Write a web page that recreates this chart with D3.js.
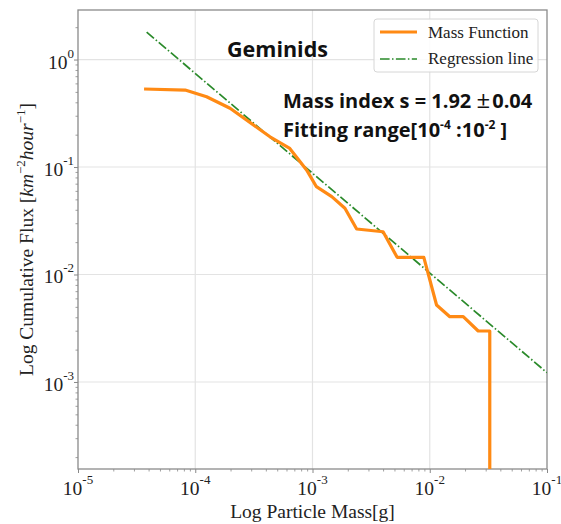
<!DOCTYPE html>
<html>
<head>
<meta charset="utf-8">
<script src="https://cdn.jsdelivr.net/npm/d3@7"></script>
<style>
  body { margin: 0; background: #fff; }
  svg text { font-family: "Liberation Serif", "Times New Roman", serif; }
</style>
</head>
<body>
<svg id="chart" width="561" height="524"></svg>
<script>
// Cumulative flux of the Geminids versus particle mass (log-log)
const massG   = [3.66e-5, 8.2e-5, 1.25e-4, 1.98e-4, 4.34e-4, 6.4e-4, 8.9e-4, 1.08e-3, 1.46e-3, 1.89e-3, 2.38e-3, 4.0e-3, 5.27e-3, 8.9e-3, 1.143e-2, 1.483e-2, 1.93e-2, 2.59e-2, 3.25e-2, 3.25e-2];
const cumFlux = [0.532,   0.52,   0.451,   0.352,   0.191,   0.149,  0.094,  0.0656,  0.053,   0.0413,  0.0265,  0.025,  0.01445, 0.01445, 0.0052,   0.00405,  0.00405, 0.00298, 0.00298, 1e-4];

// Power-law fit, drawn between its two end points
const regMass = [3.85e-5, 0.1];
const regFlux = [1.80, 1.22e-3];

// Decade ticks and their exponents
const xTickVals = [1e-5, 1e-4, 1e-3, 1e-2, 1e-1];
const xTickExp  = ["-5", "-4", "-3", "-2", "-1"];
const yTickVals = [1e-3, 1e-2, 1e-1, 1e0];
const yTickExp  = ["-3", "-2", "-1", "0"];

const legendLabels = ["Mass Function", "Regression line"];

const svg = d3.select("#chart");
const margin = { left: 78, top: 10, right: 14, bottom: 55 };
const W = 561 - margin.left - margin.right;   // 469
const H = 524 - margin.top - margin.bottom;   // 459

const x = d3.scaleLog().domain([1e-5, 1e-1]).range([0, W]);
const y = d3.scaleLog().domain([1.55e-4, 2.89]).range([H, 0]);

const g = svg.append("g").attr("transform", `translate(${margin.left},${margin.top})`);

g.append("defs").append("clipPath").attr("id", "plotClip")
  .append("rect").attr("width", W).attr("height", H);

// grid
g.append("g").selectAll("line.gx").data(xTickVals.slice(1, -1)).join("line")
  .attr("x1", d => x(d)).attr("x2", d => x(d)).attr("y1", 0).attr("y2", H)
  .attr("stroke", "#e3e3e3").attr("stroke-width", 1.2);
g.append("g").selectAll("line.gy").data(yTickVals).join("line")
  .attr("y1", d => y(d)).attr("y2", d => y(d)).attr("x1", 0).attr("x2", W)
  .attr("stroke", "#e3e3e3").attr("stroke-width", 1.2);

// minor ticks
const xMinor = x.ticks().filter(v => !xTickVals.some(t => Math.abs(t - v) / t < 1e-6));
const yMinor = y.ticks().filter(v => !yTickVals.some(t => Math.abs(t - v) / t < 1e-6));

const xAxisMinor = g.append("g").attr("transform", `translate(0,${H})`)
  .call(d3.axisBottom(x).tickValues(xMinor).tickSize(2.5).tickFormat(""));
const yAxisMinor = g.append("g")
  .call(d3.axisLeft(y).tickValues(yMinor).tickSize(2.5).tickFormat(""));
[xAxisMinor, yAxisMinor].forEach(a => {
  a.select(".domain").remove();
  a.selectAll("line").attr("stroke", "#888").attr("stroke-width", 0.8);
});

// major axes
const xAxis = g.append("g").attr("transform", `translate(0,${H})`)
  .call(d3.axisBottom(x).tickValues(xTickVals).tickSize(4).tickFormat(""));
const yAxis = g.append("g")
  .call(d3.axisLeft(y).tickValues(yTickVals).tickSize(4).tickFormat(""));
[xAxis, yAxis].forEach(a => {
  a.select(".domain").remove();
  a.selectAll("line").attr("stroke", "#888").attr("stroke-width", 1);
});

// tick labels with superscript exponents
function powLabel(sel, exp) {
  sel.append("tspan").attr("font-size", 19.5).text("10");
  sel.append("tspan").attr("font-size", 13).attr("dy", -11).text(exp);
}
xTickVals.forEach((v, i) => {
  const t = g.append("text").attr("x", x(v)).attr("y", H + 26).attr("text-anchor", "middle").attr("fill", "#222");
  powLabel(t, xTickExp[i]);
});
yTickVals.forEach((v, i) => {
  const t = g.append("text").attr("x", -4).attr("y", y(v) + 9).attr("text-anchor", "end").attr("fill", "#222");
  powLabel(t, yTickExp[i]);
});

// frame
g.append("rect").attr("width", W).attr("height", H)
  .attr("fill", "none").attr("stroke", "#8a8a8a").attr("stroke-width", 1.3);

// regression line
const line = d3.line().x(d => x(d[0])).y(d => y(d[1]));
g.append("path")
  .datum(d3.zip(regMass, regFlux))
  .attr("d", line)
  .attr("fill", "none").attr("stroke", "#2a8a2a").attr("stroke-width", 1.7)
  .attr("stroke-dasharray", "9.6,2.4,1.5,2.4")
  .attr("clip-path", "url(#plotClip)");

// mass function
g.append("path")
  .datum(d3.zip(massG, cumFlux))
  .attr("d", line)
  .attr("fill", "none").attr("stroke", "#ff8a14").attr("stroke-width", 3.2)
  .attr("stroke-linejoin", "round")
  .attr("clip-path", "url(#plotClip)");

// annotations
const sans = '"Open Sans", "Noto Sans", sans-serif';
svg.append("text").attr("x", 227).attr("y", 57)
  .style("font-family", sans).attr("font-weight", "bold").attr("font-size", 21.5).attr("fill", "#111")
  .text("Geminids");

const t1 = svg.append("text").attr("x", 283).attr("y", 108)
  .style("font-family", sans).attr("font-weight", "bold").attr("font-size", 20).attr("fill", "#111");
t1.append("tspan").text("Mass index s = 1.92 ");
t1.append("tspan").attr("font-weight", "normal").attr("font-size", 24).text("±");
t1.append("tspan").attr("dx", 2).text("0.04");

const t2 = svg.append("text").attr("x", 283).attr("y", 137)
  .style("font-family", sans).attr("font-weight", "bold").attr("font-size", 20).attr("fill", "#111");
t2.append("tspan").text("Fitting range[10");
t2.append("tspan").attr("font-size", 12).attr("dy", -8).text("-4");
t2.append("tspan").attr("dy", 8).text(" :10");
t2.append("tspan").attr("font-size", 12).attr("dy", -8).text("-2");
t2.append("tspan").attr("dy", 8).text(" ]");

// legend
const lg = svg.append("g");
lg.append("rect").attr("x", 374).attr("y", 19).attr("width", 164).attr("height", 53).attr("rx", 3)
  .attr("fill", "#fff").attr("fill-opacity", 0.85).attr("stroke", "#d6d6d6");
lg.append("line").attr("x1", 380).attr("x2", 417).attr("y1", 32).attr("y2", 32)
  .attr("stroke", "#ff8a14").attr("stroke-width", 3.2);
lg.append("line").attr("x1", 380).attr("x2", 417).attr("y1", 59).attr("y2", 59)
  .attr("stroke", "#2a8a2a").attr("stroke-width", 1.7).attr("stroke-dasharray", "9.6,2.4,1.5,2.4");
lg.append("text").attr("x", 428).attr("y", 37.5).attr("font-size", 17).attr("fill", "#222").text(legendLabels[0]);
lg.append("text").attr("x", 428).attr("y", 64).attr("font-size", 17).attr("fill", "#222").text(legendLabels[1]);

// axis titles
svg.append("text").attr("x", margin.left + W / 2).attr("y", 518).attr("text-anchor", "middle")
  .attr("font-size", 19.5).attr("fill", "#222").text("Log Particle Mass[g]");

const yl = svg.append("text").attr("transform", `translate(33,${margin.top + H / 2}) rotate(-90)`)
  .attr("text-anchor", "middle").attr("font-size", 19.5).attr("fill", "#222");
yl.append("tspan").text("Log Cumulative Flux [");
yl.append("tspan").attr("font-style", "italic").text("km");
yl.append("tspan").attr("font-size", 13).attr("dy", -8).text("−2");
yl.append("tspan").attr("font-style", "italic").attr("dy", 8).text("hour");
yl.append("tspan").attr("font-size", 13).attr("dy", -8).text("−1");
yl.append("tspan").attr("dy", 8).text("]");
</script>
</body>
</html>
